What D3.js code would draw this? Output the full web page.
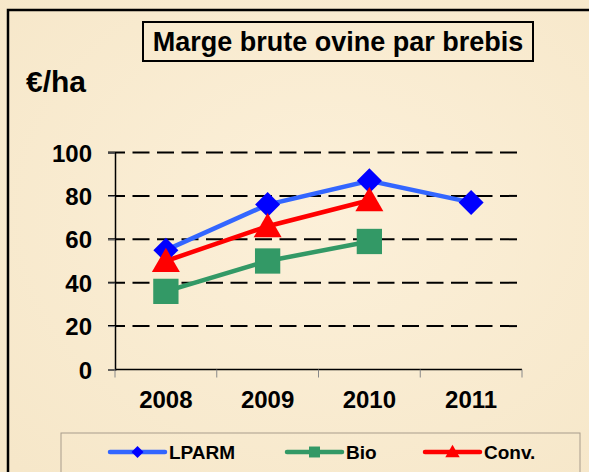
<!DOCTYPE html>
<html>
<head>
<meta charset="utf-8">
<script src="https://cdn.jsdelivr.net/npm/d3@7"></script>
<style>
  body { margin: 0; background: #f9ecd2; }
  svg { display: block; }
  text { font-family: "Liberation Sans", Arial, sans-serif; font-weight: bold; fill: #000; }
</style>
</head>
<body>
<div id="chart"></div>
<script>
// data
var years = ["2008", "2009", "2010", "2011"];
var lparm = [55, 76, 87, 77];
var bio = [36, 50, 59, null];
var conv = [50, 66, 78, null];
var yTicks = [0, 20, 40, 60, 80, 100];

var series = [
  {name: "LPARM", values: lparm, line: "#3366ff", mark: "#0000ff", shape: "diamond"},
  {name: "Bio", values: bio, line: "#339966", mark: "#339966", shape: "square"},
  {name: "Conv.", values: conv, line: "#ff0000", mark: "#ff0000", shape: "triangle"}
];

var W = 589, H = 472;
var plot = {left: 115, right: 522, top: 152.5, bottom: 369.5};

var svg = d3.select("#chart").append("svg")
    .attr("width", W)
    .attr("height", H);

// parchment background
var defs = svg.append("defs");
var grad = defs.append("radialGradient").attr("id", "bg").attr("cx", "55%").attr("cy", "45%").attr("r", "75%");
grad.append("stop").attr("offset", "0%").attr("stop-color", "#fcf0d9");
grad.append("stop").attr("offset", "100%").attr("stop-color", "#f6e7c9");
svg.append("rect").attr("width", W).attr("height", H).attr("fill", "url(#bg)");

// outer frame (only left and top are visible)
svg.append("rect")
    .attr("x", 8).attr("y", 10)
    .attr("width", W + 20).attr("height", H + 20)
    .attr("fill", "none")
    .attr("stroke", "#000")
    .attr("stroke-width", 2.5);

// title box
svg.append("rect")
    .attr("x", 143).attr("y", 22)
    .attr("width", 390).attr("height", 39)
    .attr("fill", "none")
    .attr("stroke", "#000")
    .attr("stroke-width", 2);
svg.append("text")
    .attr("x", 338).attr("y", 51)
    .attr("text-anchor", "middle")
    .style("font-size", "27px")
    .text("Marge brute ovine par brebis");

svg.append("text")
    .attr("x", 26).attr("y", 92)
    .style("font-size", "30px")
    .text("€/ha");

var x = d3.scaleBand().domain(years).range([plot.left, plot.right]);
var y = d3.scaleLinear().domain([0, 100]).range([plot.bottom, plot.top]);

// dashed gridlines
svg.append("g")
  .selectAll("line")
  .data(yTicks.filter(function(d) { return d > 0; }))
  .join("line")
    .attr("x1", plot.left - 7).attr("x2", plot.right)
    .attr("y1", function(d) { return y(d); })
    .attr("y2", function(d) { return y(d); })
    .attr("stroke", "#000")
    .attr("stroke-width", 2)
    .attr("stroke-dasharray", "17,7.5");

// y axis
var yAxis = svg.append("g")
    .attr("transform", "translate(" + plot.left + ",0)")
    .call(d3.axisLeft(y).tickValues(yTicks).tickSize(7).tickPadding(16));
yAxis.select(".domain").attr("stroke", "#000").attr("stroke-width", 1.5);
yAxis.selectAll(".tick line").attr("stroke", "#888");
yAxis.selectAll("text")
    .style("font-size", "24px")
    .style("font-family", "Liberation Sans, Arial, sans-serif")
    .style("font-weight", "bold")
    .attr("dy", "0.36em");

// x axis with ticks between categories
var xAxis = svg.append("g")
    .attr("transform", "translate(0," + plot.bottom + ")");
xAxis.append("line")
    .attr("x1", plot.left).attr("x2", plot.right)
    .attr("stroke", "#000").attr("stroke-width", 1.5);
var bounds = years.map(function(d) { return x(d); }).concat([x(years[years.length - 1]) + x.bandwidth()]);
xAxis.selectAll("line.tk")
  .data(bounds)
  .join("line")
    .attr("class", "tk")
    .attr("x1", function(d) { return d; }).attr("x2", function(d) { return d; })
    .attr("y1", 0).attr("y2", 8)
    .attr("stroke", "#888");
xAxis.selectAll("text")
  .data(years)
  .join("text")
    .attr("x", function(d) { return x(d) + x.bandwidth() / 2; })
    .attr("y", 38.5)
    .attr("text-anchor", "middle")
    .style("font-size", "24px")
    .text(function(d) { return d; });

// marker shapes: diamond is a square turned 45 degrees
function marker(shape, size) {
  if (shape === "triangle") return {d: d3.symbol().type(d3.symbolTriangle).size(size)(), rot: 0, dy: 3};
  return {d: d3.symbol().type(d3.symbolSquare).size(size)(), rot: shape === "diamond" ? 45 : 0, dy: 0};
}

// lines and markers
var cx = function(i) { return x(years[i]) + x.bandwidth() / 2; };
var line = d3.line()
    .defined(function(d) { return d != null; })
    .x(function(d, i) { return cx(i); })
    .y(function(d) { return y(d); });

series.forEach(function(s) {
  svg.append("path")
      .datum(s.values)
      .attr("fill", "none")
      .attr("stroke", s.line)
      .attr("stroke-width", 4.5)
      .attr("d", line);
});

var symSize = {diamond: 312, square: 640, triangle: 340};
series.forEach(function(s) {
  var m = marker(s.shape, symSize[s.shape]);
  svg.append("g")
    .selectAll("path")
    .data(s.values.map(function(v, i) { return {v: v, i: i}; }).filter(function(d) { return d.v != null; }))
    .join("path")
      .attr("transform", function(d) {
        return "translate(" + cx(d.i) + "," + (y(d.v) + m.dy) + ") rotate(" + m.rot + ")";
      })
      .attr("fill", s.mark)
      .attr("d", m.d);
});

// legend
var legend = svg.append("g");
legend.append("rect")
    .attr("x", 61).attr("y", 433)
    .attr("width", 519).attr("height", 60)
    .attr("fill", "none")
    .attr("stroke", "#a89c8c")
    .attr("stroke-width", 1);
var legX = [110, 287, 425];
var legSize = {diamond: 72, square: 120, triangle: 90};
series.forEach(function(s, i) {
  var g = legend.append("g").attr("transform", "translate(" + legX[i] + ",452)");
  var m = marker(s.shape, legSize[s.shape]);
  g.append("line")
      .attr("x1", 0).attr("x2", 55)
      .attr("stroke", s.line)
      .attr("stroke-width", 4.5)
      .attr("stroke-linecap", "round");
  g.append("path")
      .attr("transform", "translate(27.5," + (m.dy ? 1 : 0) + ") rotate(" + m.rot + ")")
      .attr("fill", s.mark)
      .attr("d", m.d);
  g.append("text")
      .attr("x", 59).attr("y", 7)
      .style("font-size", "19px")
      .text(s.name);
});
</script>
</body>
</html>
